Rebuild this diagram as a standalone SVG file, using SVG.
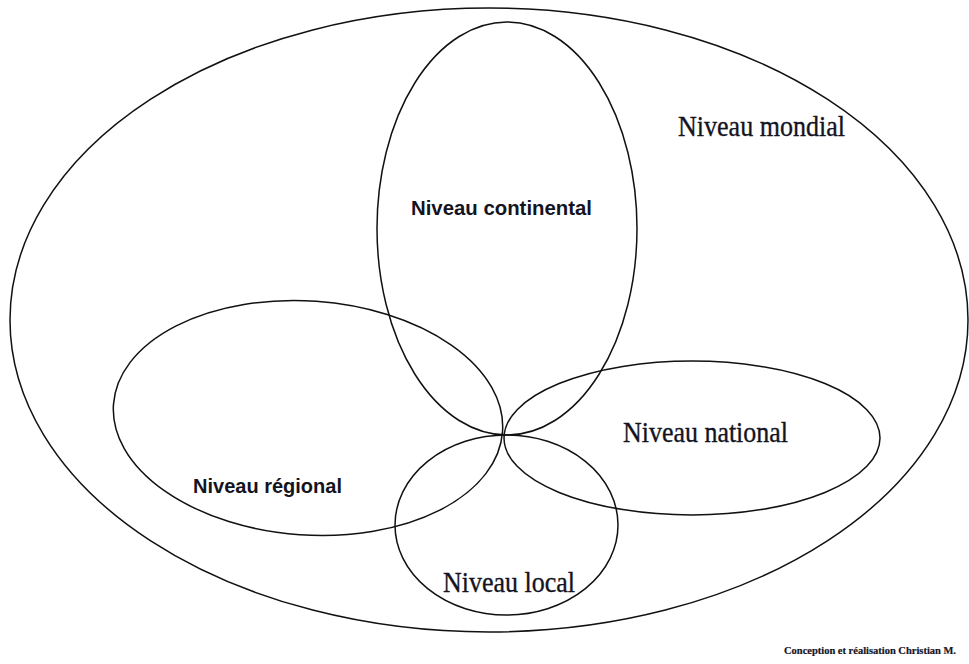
<svg xmlns="http://www.w3.org/2000/svg" width="969" height="664" viewBox="0 0 969 664">
  <style>
    .ring { fill: none; stroke: #111; stroke-width: 1.5; }
    .serif { font-family: "Liberation Serif", "Times New Roman", serif; font-size: 29px; fill: #14141f; stroke: #14141f; stroke-width: 0.35; }
    .sans { font-family: "Liberation Sans", Arial, sans-serif; font-size: 21px; font-weight: bold; fill: #14141f; }
    .credit { font-family: "Liberation Serif", "Times New Roman", serif; font-size: 10.5px; font-weight: bold; fill: #14141f; stroke: #14141f; stroke-width: 0.2; }
  </style>
  <rect width="969" height="664" fill="#ffffff"/>

  <g id="mondial">
    <ellipse class="ring" cx="489" cy="320" rx="479" ry="312"/>
    <text class="serif" x="678" y="136" textLength="167" lengthAdjust="spacingAndGlyphs">Niveau mondial</text>
  </g>

  <g id="continental">
    <ellipse class="ring" cx="507" cy="228.5" rx="130" ry="206.5"/>
    <text class="sans" x="411" y="215" textLength="181" lengthAdjust="spacingAndGlyphs">Niveau continental</text>
  </g>

  <g id="regional">
    <ellipse class="ring" cx="308" cy="418" rx="195" ry="117" transform="rotate(4 308 418)"/>
    <text class="sans" x="193" y="493" textLength="149" lengthAdjust="spacingAndGlyphs">Niveau régional</text>
  </g>

  <g id="national">
    <ellipse class="ring" cx="692" cy="438" rx="188" ry="77"/>
    <text class="serif" x="623" y="442" textLength="165" lengthAdjust="spacingAndGlyphs">Niveau national</text>
  </g>

  <g id="local">
    <ellipse class="ring" cx="506.5" cy="525" rx="111.5" ry="90"/>
    <text class="serif" x="443" y="592" textLength="132" lengthAdjust="spacingAndGlyphs">Niveau local</text>
  </g>

  <g id="credit">
    <text class="credit" x="784" y="654" textLength="172" lengthAdjust="spacingAndGlyphs">Conception et réalisation Christian M.</text>
  </g>
</svg>
